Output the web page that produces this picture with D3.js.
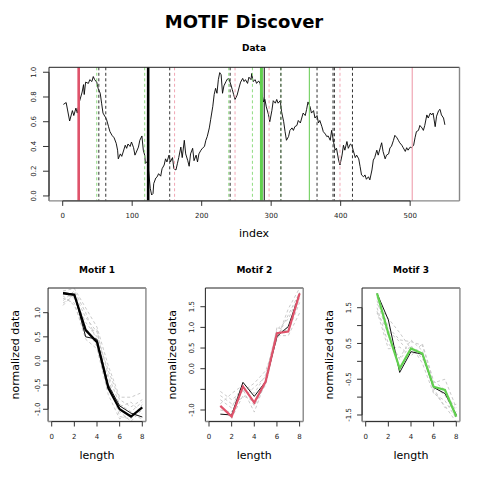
<!DOCTYPE html>
<html><head><meta charset="utf-8">
<script src="https://cdn.jsdelivr.net/npm/d3@7"></script>
<style>body{margin:0;background:#fff} svg{display:block} text{font-family:"DejaVu Sans",sans-serif}</style>
</head><body><svg id="c" width="480" height="480"></svg>
<script>
// ---------- data ----------
const dataIndex = [1,5,7,10,14,16,19,21,24,28,30,31,33,37,39,42,44,46,49,51,54,56,58,61,63,66,68,71,74,77,79,80,83,85,87,90,92,94,97,99,102,104,106,109,111,114,116,118,119,122,124,126,128,130,131,134,136,138,141,143,146,148,150,153,155,158,160,163,165,167,170,172,175,177,180,182,184,187,189,192,194,196,199,201,204,206,208,211,213,216,218,220,222,224,226,228,230,232,235,237,239,242,244,246,248,251,254,256,259,261,263,266,268,271,272,274,277,279,282,284,286,289,291,293,296,298,301,303,306,308,310,313,315,318,320,322,325,327,330,332,334,337,339,342,344,346,349,351,353,356,358,361,363,366,368,370,373,375,378,380,382,385,387,390,392,394,397,399,402,404,406,409,411,414,416,418,421,423,426,428,430,433,435,437,440,442,445,447,449,452,454,457,459,461,464,466,469,471,473,476,478,481,483,485,488,490,493,495,497,500,502,505,507,509,512,514,517,519,521,524,526,529,531,533,536,538,541,543,545,548,550];
const dataValue = [0.74,0.755,0.695,0.606,0.69,0.65,0.71,0.67,0.76,0.84,0.90,0.82,0.92,0.91,0.94,0.925,0.965,0.94,0.92,0.87,0.83,0.75,0.67,0.64,0.62,0.56,0.52,0.49,0.47,0.426,0.37,0.30,0.34,0.32,0.355,0.41,0.385,0.42,0.40,0.436,0.39,0.33,0.355,0.395,0.45,0.485,0.37,0.33,0.264,0.28,0.18,0.062,0.008,0.02,0.10,0.145,0.155,0.18,0.16,0.22,0.25,0.30,0.275,0.33,0.275,0.31,0.22,0.21,0.26,0.31,0.395,0.31,0.45,0.34,0.285,0.24,0.34,0.385,0.285,0.33,0.275,0.34,0.37,0.385,0.40,0.45,0.48,0.55,0.62,0.725,0.82,0.87,0.83,0.94,0.997,0.98,0.83,0.89,0.925,0.945,0.95,0.90,0.86,0.82,0.78,0.815,0.88,0.92,0.95,0.925,0.94,0.91,0.96,0.94,0.99,0.925,0.94,0.91,0.93,0.91,0.85,0.76,0.78,0.72,0.66,0.60,0.69,0.77,0.75,0.78,0.75,0.77,0.68,0.60,0.52,0.45,0.48,0.53,0.55,0.53,0.56,0.57,0.61,0.59,0.63,0.67,0.65,0.70,0.76,0.72,0.67,0.69,0.63,0.65,0.59,0.61,0.56,0.52,0.50,0.48,0.485,0.45,0.53,0.43,0.37,0.385,0.29,0.25,0.33,0.41,0.37,0.44,0.385,0.42,0.41,0.37,0.31,0.33,0.30,0.237,0.17,0.155,0.17,0.135,0.155,0.13,0.21,0.29,0.31,0.37,0.33,0.39,0.43,0.36,0.30,0.33,0.34,0.39,0.40,0.45,0.49,0.47,0.45,0.43,0.41,0.39,0.36,0.39,0.37,0.395,0.39,0.41,0.47,0.52,0.53,0.57,0.55,0.53,0.57,0.655,0.63,0.67,0.655,0.67,0.56,0.645,0.69,0.70,0.655,0.63,0.575];
const dataXTicks = [0,100,200,300,400,500];
const dataYTicks = [0,0.2,0.4,0.6,0.8,1.0];

// motif occurrence positions (index)
const motif1Main = [123], motif1Solid = [290], motif1Dashed = [52,62,154,241,314,366,389,391,417];
const motif2Main = [23],  motif2Solid = [503], motif2Dashed = [161,248,297,399];
const motif3Main = [286], motif3Solid = [355], motif3Dashed = [49,118,239,273,314];

// motif panels
const motifLength = [1,2,3,4,5,6,7,8];
const motifXTicks = [0,2,4,6,8];
const motif1Center = [1.40,1.37,0.64,0.39,-0.56,-1.00,-1.15,-0.96];
const motif1Ref    = [1.42,1.38,0.50,0.45,-0.50,-0.93,-1.08,-1.16];
const motif1Members = [
  [1.45,1.50,1.10,0.70,-0.10,-0.75,-0.75,-0.65],
  [1.15,1.40,0.90,0.60,-0.30,-0.90,-1.05,-0.85],
  [1.30,1.20,0.45,0.25,-0.70,-1.20,-1.10,-1.20],
  [1.40,1.30,0.80,0.50,-0.20,-0.80,-0.95,-0.80],
  [1.25,1.45,1.00,0.40,-0.45,-1.05,-1.25,-1.00],
  [1.35,1.15,0.60,0.65,-0.55,-0.95,-0.85,-1.10],
  [1.20,1.35,0.70,0.30,-0.35,-1.15,-1.20,-0.90]];
const motif1YTicks = [-1.0,-0.5,0.0,0.5,1.0], motif1YLabels = [-1.0,-0.5,0.0,0.5,1.0];

const motif2Center = [-0.90,-1.16,-0.43,-0.82,-0.31,0.86,0.90,1.82];
const motif2Ref    = [-1.10,-1.12,-0.33,-0.67,-0.31,0.78,1.02,1.82];
const motif2Members = [
  [-0.55,-0.75,-0.55,-0.35,-0.05,0.70,1.45,1.95],
  [-0.75,-0.95,-0.35,-0.60,-0.15,0.95,1.20,1.80],
  [-0.90,-1.20,-0.65,-0.80,-0.40,0.80,0.80,1.35],
  [-1.00,-1.05,-0.50,-1.05,-0.30,0.85,1.00,1.70],
  [-0.65,-0.85,-0.70,-0.45,-0.20,0.75,1.30,1.85],
  [-0.85,-0.60,-0.40,-0.90,-0.35,1.00,0.90,1.60]];
const motif2YTicks = [-1.0,-0.5,0.0,0.5,1.0,1.5], motif2YLabels = [-1.0,0.0,0.5,1.0,1.5];

const motif3Center = [1.90,0.78,-0.20,0.36,0.22,-0.71,-0.80,-1.55];
const motif3Ref    = [1.90,1.16,-0.31,0.27,0.20,-0.73,-0.90,-1.49];
const motif3Members = [
  [1.80,0.95,0.60,0.55,0.45,-0.60,-0.50,-1.30],
  [1.60,1.20,0.80,0.35,0.10,-0.70,-0.95,-1.50],
  [1.50,0.50,0.10,0.60,0.30,-0.85,-1.25,-1.70],
  [1.40,0.35,0.40,0.15,0.50,-0.55,-0.80,-1.40],
  [1.70,0.70,0.05,0.45,-0.05,-0.90,-1.10,-1.60],
  [1.35,0.85,0.55,0.25,0.20,-0.75,-1.30,-1.20]];
const motif3YTicks = [-1.5,-1.0,-0.5,0.0,0.5,1.0,1.5], motif3YLabels = [-1.5,-0.5,0.5,1.5];

// ---------- drawing ----------
const svg = d3.select("#c");
const RED = "#DF536B", GREEN = "#61D04F";
const fmt1 = d3.format(".1f");
const fmtMinus = v => fmt1(v).replace("−","-");

svg.append("text").attr("x",244).attr("y",27.5).attr("text-anchor","middle")
  .attr("font-size",18).attr("font-weight","bold").text("MOTIF Discover");

function drawBox(g, x0, x1, y0, y1){
  g.append("line").attr("x1",x0).attr("x2",x1).attr("y1",y0).attr("y2",y0).attr("stroke","#222");
  g.append("line").attr("x1",x0).attr("x2",x0).attr("y1",y0).attr("y2",y1).attr("stroke","#222");
  g.append("line").attr("x1",x1).attr("x2",x1).attr("y1",y0).attr("y2",y1).attr("stroke","#888").attr("stroke-width",1.4);
  g.append("line").attr("x1",x0).attr("x2",x1).attr("y1",y1).attr("y2",y1).attr("stroke","#888").attr("stroke-width",1.4);
}
function xAxis(g, sx, ticks, yBase, labelY, fmt){
  g.append("line").attr("x1",sx(ticks[0])).attr("x2",sx(ticks[ticks.length-1]))
    .attr("y1",yBase).attr("y2",yBase).attr("stroke","#333");
  ticks.forEach(t=>{
    g.append("line").attr("x1",sx(t)).attr("x2",sx(t)).attr("y1",yBase).attr("y2",yBase+5).attr("stroke","#333");
    g.append("text").attr("x",sx(t)).attr("y",labelY).attr("text-anchor","middle")
      .attr("font-size",7).attr("fill","#222").text(fmt(t));
  });
}
function yAxis(g, sy, ticks, labels, xBase, labelX, tickLen){
  g.append("line").attr("x1",xBase).attr("x2",xBase).attr("y1",sy(ticks[0])).attr("y2",sy(ticks[ticks.length-1])).attr("stroke","#333");
  ticks.forEach(t=>{
    g.append("line").attr("x1",xBase-tickLen).attr("x2",xBase).attr("y1",sy(t)).attr("y2",sy(t)).attr("stroke","#333");
  });
  labels.forEach(t=>{
    g.append("text").attr("transform",`translate(${labelX},${sy(t)}) rotate(-90)`)
      .attr("text-anchor","middle").attr("font-size",7).attr("fill","#222").text(fmtMinus(t));
  });
}

// ---- top data plot ----
{
  const g = svg.append("g");
  const x = d3.scaleLinear().domain([-19.7,571]).range([49,459.5]);
  const y = d3.scaleLinear().domain([-0.04,1.04]).range([200.9,67.3]);
  g.append("text").attr("x",254).attr("y",51).attr("text-anchor","middle")
    .attr("font-size",9).attr("font-weight","bold").text("Data");
  const line = d3.line().x((d,i)=>x(dataIndex[i])).y(d=>y(d));
  g.append("path").datum(dataValue).attr("d",line).attr("fill","none").attr("stroke","#000").attr("stroke-width",0.9);

  const vline = (arr, color, w, dash) => arr.forEach(v=>{
    const l = g.append("line").attr("x1",x(v)).attr("x2",x(v)).attr("y1",y.range()[1]).attr("y2",y.range()[0])
      .attr("stroke",color).attr("stroke-width",w);
    if(dash) l.attr("stroke-dasharray",dash);
  });
  vline(motif3Dashed, "#8fdc80", 1, "3,2.5");
  vline(motif1Dashed, "#333", 1, "3,2.5");
  vline(motif2Dashed, "#f0a6b4", 1, "3,2.5");
  vline(motif2Solid, "#f0a6b4", 1.2, null);
  vline(motif3Solid, "#7cd46c", 1.2, null);
  vline(motif1Solid, "#000", 1, null);
  vline(motif2Main, RED, 2.6, null);
  vline(motif1Main, "#000", 2.6, null);
  vline(motif3Main, GREEN, 3, null);

  drawBox(g, 49, 459.5, 67.3, 200.9);
  xAxis(g, x, dataXTicks, 200.9, 217.5, d3.format("d"));
  yAxis(g, y, dataYTicks, dataYTicks, 49, 35.5, 6);
  g.append("text").attr("x",254).attr("y",237).attr("text-anchor","middle").attr("font-size",11).text("index");
}

// ---- motif panels ----
function motifPanel(cfg){
  const g = svg.append("g");
  const x = d3.scaleLinear().domain([0,8]).range([cfg.x0, cfg.x0+90.6]);
  const bx0 = x(-0.32), bx1 = x(8.32);
  const y = d3.scaleLinear().domain(cfg.ydom).range([421.5,288]);
  const line = d3.line().x((d,i)=>x(motifLength[i])).y(d=>y(d));
  cfg.members.forEach(m=>{
    g.append("path").datum(m).attr("d",line).attr("fill","none").attr("stroke","#c4c4c4").attr("stroke-width",0.9).attr("stroke-dasharray","3,2.5");
  });
  g.append("path").datum(cfg.ref).attr("d",line).attr("fill","none").attr("stroke","#111").attr("stroke-width",1);
  g.append("path").datum(cfg.center).attr("d",line).attr("fill","none").attr("stroke",cfg.color).attr("stroke-width",cfg.cw);
  drawBox(g, bx0, bx1, 288, 421.5);
  xAxis(g, x, motifXTicks, 421.5, 439, d3.format("d"));
  yAxis(g, y, cfg.yticks, cfg.ylabels, bx0, bx0-cfg.lab, 5);
  const cx = (bx0+bx1)/2;
  g.append("text").attr("x",cx).attr("y",273).attr("text-anchor","middle").attr("font-size",9).attr("font-weight","bold").text(cfg.title);
  g.append("text").attr("x",cx).attr("y",459).attr("text-anchor","middle").attr("font-size",11).text("length");
  g.append("text").attr("transform",`translate(${bx0-29},${(288+421.5)/2}) rotate(-90)`)
    .attr("text-anchor","middle").attr("font-size",11).text("normalized data");
}
motifPanel({x0:51.7, ydom:[-1.253,1.511], members:motif1Members, ref:motif1Ref, center:motif1Center, color:"#000", cw:2.2,
  yticks:motif1YTicks, ylabels:motif1YLabels, lab:8, title:"Motif 1"});
motifPanel({x0:209, ydom:[-1.278,1.953], members:motif2Members, ref:motif2Ref, center:motif2Center, color:RED, cw:2.2,
  yticks:motif2YTicks, ylabels:motif2YLabels, lab:11, title:"Motif 2"});
motifPanel({x0:365.7, ydom:[-1.682,2.051], members:motif3Members, ref:motif3Ref, center:motif3Center, color:GREEN, cw:2.2,
  yticks:motif3YTicks, ylabels:motif3YLabels, lab:11, title:"Motif 3"});
</script></body></html>
